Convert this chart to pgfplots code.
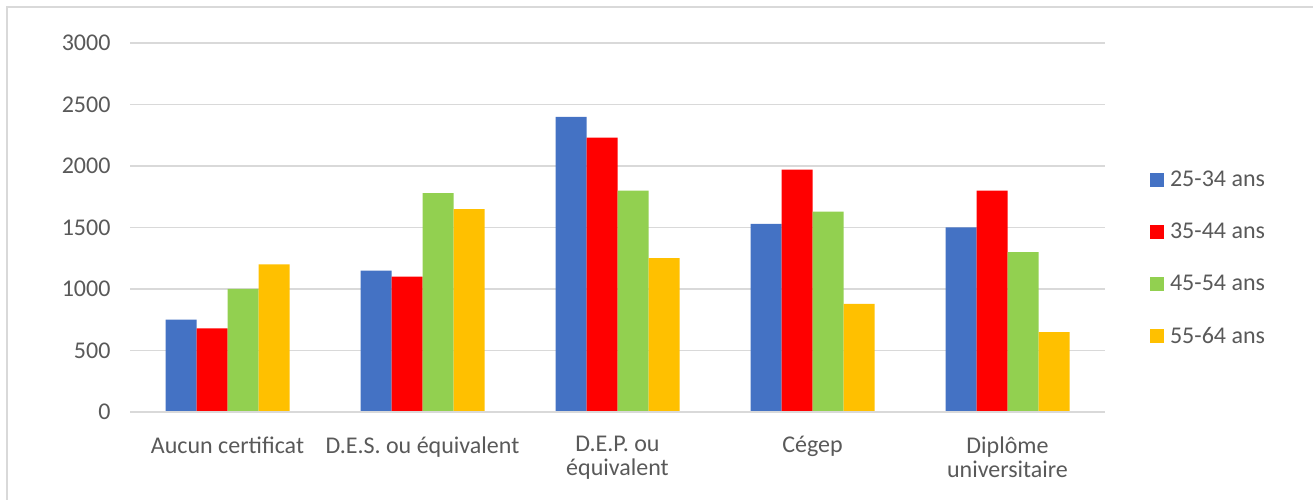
\documentclass[border=0pt]{standalone}
\usepackage{pgfplots}
\pgfplotsset{compat=1.18}
\usepackage{fontspec}
\setmainfont{Carlito}
\definecolor{cblue}{HTML}{4472C4}
\definecolor{cred}{HTML}{FF0000}
\definecolor{cgreen}{HTML}{92D050}
\definecolor{cyellow}{HTML}{FFC000}
\definecolor{txt}{HTML}{595959}
\definecolor{gridc}{HTML}{D9D9D9}
\begin{document}
\begin{tikzpicture}[x=1pt,y=1pt]
\useasboundingbox (0,0) rectangle (1313,500);
\draw[gridc, line width=1.5pt] (7,0) -- (7,493) -- (1313,493);
\begin{axis}[
  at={(130pt,88pt)}, anchor=south west,
  scale only axis,
  width=975pt, height=369pt,
  ybar=0pt, bar width=31pt,
  xmin=-0.5, xmax=4.5,
  ymin=0, ymax=3000,
  ytick={0,500,...,3000},
  xtick=data,
  xticklabels={Aucun certificat, D.E.S. ou équivalent, {D.E.P. ou\\équivalent}, Cégep, {Diplôme\\universitaire}},
  axis line style={draw=none},
  ymajorgrids, xmajorgrids=false, major grid style={draw=gridc, line width=1.2pt},
  major tick length=0pt,
  /pgf/number format/assume math mode=true,
  /pgf/number format/1000 sep={},
  yticklabel style={font=\fontsize{24}{26}\selectfont, text=txt, xshift=-16pt},
  xticklabel style={font=\fontsize{24}{24}\selectfont, text=txt, align=center, yshift=-21pt},
  legend style={at={(1.046,0.653)}, anchor=north west, draw=none, fill=none,
    font=\fontsize{24}{26}\selectfont, text=txt, row sep=35pt, inner sep=0pt,
    nodes={inner xsep=6pt, inner ysep=0pt}},
  legend cell align=left,
  legend image code/.code={\fill[#1] (0pt,-7pt) rectangle (14pt,7pt);},
  clip=false,
]
\addplot[fill=cblue, draw=none] coordinates {(0,750) (1,1150) (2,2400) (3,1530) (4,1500)};
\addplot[fill=cred, draw=none] coordinates {(0,680) (1,1100) (2,2230) (3,1970) (4,1800)};
\addplot[fill=cgreen, draw=none] coordinates {(0,1000) (1,1780) (2,1800) (3,1630) (4,1300)};
\addplot[fill=cyellow, draw=none] coordinates {(0,1200) (1,1650) (2,1250) (3,880) (4,650)};
\draw[gridc, line width=1.2pt] (rel axis cs:0,0) -- (rel axis cs:1,0);
\legend{25-34 ans, 35-44 ans, 45-54 ans, 55-64 ans}
\end{axis}
\end{tikzpicture}
\end{document}
